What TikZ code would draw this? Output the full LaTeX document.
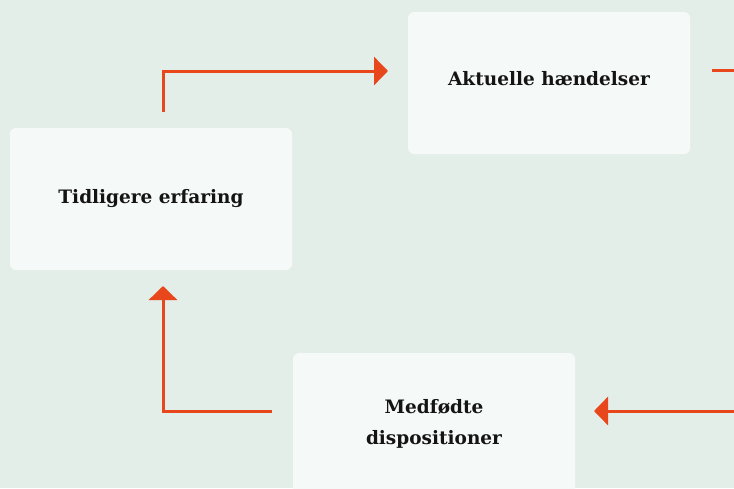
\documentclass[tikz,border=0pt]{standalone}
\usepackage{fontspec}
\setmainfont{DejaVu Serif}
\usetikzlibrary{arrows.meta}
\definecolor{bgc}{HTML}{E4EEE8}
\definecolor{boxc}{HTML}{F5F9F8}
\definecolor{arr}{HTML}{E8461B}
\definecolor{txt}{HTML}{141414}
\tikzset{
  cardfont/.style={font=\bfseries\fontsize{18.5}{31}\selectfont},
  card/.style={fill=boxc, rounded corners=6pt, minimum width=282pt, minimum height=142pt, inner sep=0pt, text=txt, cardfont, align=center},
  flow/.style={draw=arr, line width=3pt, -{Triangle[length=14pt,width=28pt]}},
  flowplain/.style={draw=arr, line width=3pt}
}
\begin{document}
\begin{tikzpicture}[x=1pt,y=-1pt]
\useasboundingbox (0,0) rectangle (734,488);
\clip (0,0) rectangle (734,488);
\fill[bgc] (0,0) rectangle (734,488);
\node[card] (tid) at (151,199) {Tidligere erfaring};
\node[card] (akt) at (549,83) {};
\node[text=txt, cardfont] (akttxt) at (akt.center) [yshift=4pt] {Aktuelle hændelser};
\node[card] (med) at (434,424) {Medfødte\\dispositioner};
\coordinate (a1s) at (163,112);
\coordinate (a1c) at (163,71);
\coordinate (a1e) at (388,71);
\coordinate (l2s) at (712,70);
\coordinate (l2e) at (740,70);
\coordinate (a3s) at (272,411);
\coordinate (a3c) at (163,411);
\coordinate (a3e) at (163,286);
\coordinate (a4s) at (740,411);
\coordinate (a4e) at (594,411);
\draw[flow] (a1s) -- (a1c) -- (a1e);
\draw[flowplain] (l2s) -- (l2e);
\draw[flow] (a3s) -- (a3c) -- (a3e);
\draw[flow] (a4s) -- (a4e);
\end{tikzpicture}
\end{document}
